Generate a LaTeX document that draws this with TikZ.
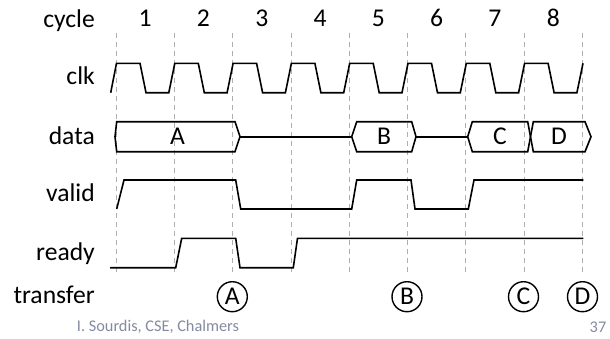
\documentclass[tikz,border=0pt]{standalone}
\usepackage{fontspec}
\setmainfont{Carlito}
\definecolor{footgray}{RGB}{132,138,160}
\definecolor{gridgray}{RGB}{175,175,175}
\begin{document}
\begin{tikzpicture}[x=1pt,y=-1pt,
  sig/.style={line width=1.6pt, line join=miter},
  grid/.style={gridgray, line width=0.8pt, dash pattern=on 5pt off 4pt},
  lbl/.style={anchor=base east, inner sep=0pt, font=\fontsize{25.6}{30}\selectfont},
  num/.style={anchor=base, inner sep=0pt, font=\fontsize{25.6}{30}\selectfont},
  buslbl/.style={inner sep=0pt, font=\fontsize{25.6}{30}\selectfont},
  xfer/.style={circle, draw, line width=1.4pt, minimum size=30pt, inner sep=0pt, font=\fontsize{25.6}{30}\selectfont},
  foot/.style={inner sep=0pt, text=footgray, font=\fontsize{16.3}{19}\selectfont}]
\useasboundingbox (0,0) rectangle (610,338);
% grid lines
\foreach \i in {0,...,8} {
  \coordinate (g\i) at ({116+58.3*\i},33);
  \coordinate (h\i) at ({116+58.3*\i},273);
  \draw[grid] (g\i) -- (h\i);
}
% row labels
\node[lbl] (lcycle) at (95,27) {cycle};
\node[lbl] (lclk) at (95,84) {clk};
\node[lbl] (ldata) at (95,144) {data};
\node[lbl] (lvalid) at (95,201) {valid};
\node[lbl] (lready) at (95,260) {ready};
\node[lbl] (ltransfer) at (95,303) {transfer};
% cycle numbers
\foreach \i in {1,...,8} {
  \node[num] (n\i) at ({116+58.3*\i-29.15},26) {\i};
}
% clk
\draw[sig] (110.7,92.7)
  \foreach \i in {0,...,7} {
    -- ({116+58.3*\i+0.5},63.3) -- ({116+58.3*\i+24},63.3)
    -- ({116+58.3*\i+30},92.7) -- ({116+58.3*(\i+1)-5.5},92.7)
  } -- (583,63.3);
% data bus
\draw[sig] (116.7,121.7) -- (235,121.7) -- (240,136.7) -- (235,151.7) -- (116.7,151.7) -- (115,136.7) -- cycle;
\draw[sig] (240,136.7) -- (351.7,136.7);
\draw[sig] (351.7,136.7) -- (356.7,121.7) -- (411.7,121.7) -- (416,136.7) -- (411.7,151.7) -- (356.7,151.7) -- cycle;
\draw[sig] (416,136.7) -- (467.7,136.7);
\draw[sig] (467.7,136.7) -- (472.3,121.7) -- (527.7,121.7) -- (530.5,136.7) -- (527.7,151.7) -- (472.3,151.7) -- cycle;
\draw[sig] (530.5,136.7) -- (533.3,121.7) -- (585,121.7) -- (591,136.7) -- (585,151.7) -- (533.3,151.7) -- cycle;
\node[buslbl] (dA) at (177.5,136.7) {A};
\node[buslbl] (dB) at (384,136.7) {B};
\node[buslbl] (dC) at (500,136.7) {C};
\node[buslbl] (dD) at (559,136.7) {D};
% valid
\draw[sig] (116.7,209) -- (124,180) -- (235.7,180) -- (240.7,209) -- (351.7,209) -- (356.7,180)
  -- (411,180) -- (415,209) -- (468.3,209) -- (474,180) -- (583.3,180);
% ready
\draw[sig] (110,267.7) -- (175.7,267.7) -- (181.7,238.3) -- (235.7,238.3) -- (240,267.7)
  -- (293.3,267.7) -- (297.5,238.3) -- (583.3,238.3);
% transfers
\node[xfer] (tA) at (232.3,296.7) {A};
\node[xfer] (tB) at (407,296.7) {B};
\node[xfer] (tC) at (523.5,296.7) {C};
\node[xfer] (tD) at (582.5,296.7) {D};
% footer
\node[foot] (credit) at (158,327) {I. Sourdis, CSE, Chalmers};
\node[foot] (page) at (598,327) {37};
\end{tikzpicture}
\end{document}
